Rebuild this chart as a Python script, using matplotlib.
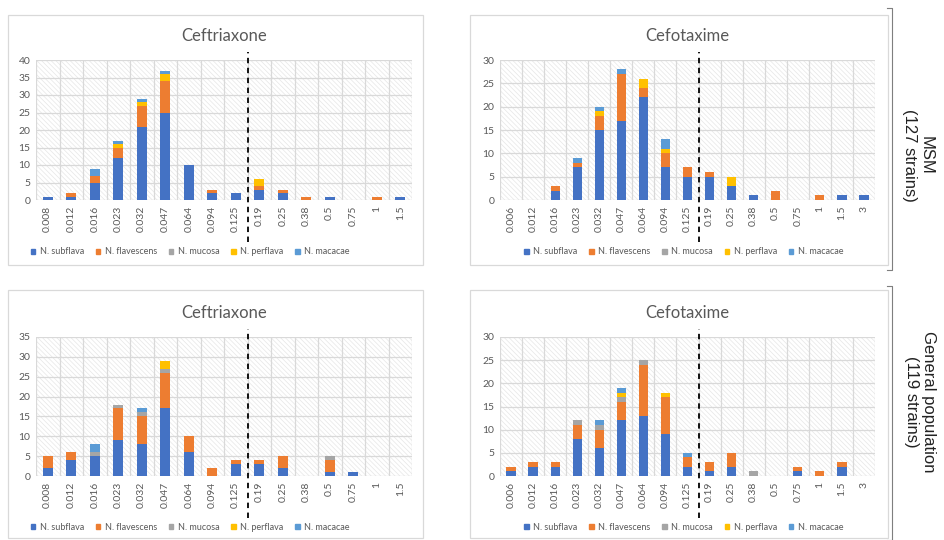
import matplotlib
matplotlib.use("Agg")
import matplotlib.pyplot as plt
import numpy as np
from matplotlib.patches import Rectangle
from matplotlib.lines import Line2D
import matplotlib.transforms as mtransforms

plt.rcParams['font.family'] = ['Lato', 'DejaVu Sans']
plt.rcParams['hatch.linewidth'] = 0.5

species = ["N. subflava", "N. flavescens", "N. mucosa", "N. perflava", "N. macacae"]
colors = ["#4472C4", "#ED7D31", "#A5A5A5", "#FFC000", "#5B9BD5"]

# MIC categories
cro_mic = ["0.008", "0.012", "0.016", "0.023", "0.032", "0.047", "0.064", "0.094",
           "0.125", "0.19", "0.25", "0.38", "0.5", "0.75", "1", "1.5"]
ctx_mic = ["0.006", "0.012", "0.016", "0.023", "0.032", "0.047", "0.064", "0.094",
           "0.125", "0.19", "0.25", "0.38", "0.5", "0.75", "1", "1.5", "3"]

# MSM - ceftriaxone
msm_cro_subflava   = [1, 1, 5, 12, 21, 25, 10, 2, 2, 3, 2, 0, 1, 0, 0, 1]
msm_cro_flavescens = [0, 1, 2, 3, 6, 9, 0, 1, 0, 1, 1, 1, 0, 0, 1, 0]
msm_cro_mucosa     = [0, 0, 0, 0, 0, 0, 0, 0, 0, 0, 0, 0, 0, 0, 0, 0]
msm_cro_perflava   = [0, 0, 0, 1, 1, 2, 0, 0, 0, 2, 0, 0, 0, 0, 0, 0]
msm_cro_macacae    = [0, 0, 2, 1, 1, 1, 0, 0, 0, 0, 0, 0, 0, 0, 0, 0]

# MSM - cefotaxime
msm_ctx_subflava   = [0, 0, 2, 7, 15, 17, 22, 7, 5, 5, 3, 1, 0, 0, 0, 1, 1]
msm_ctx_flavescens = [0, 0, 1, 1, 3, 10, 2, 3, 2, 1, 0, 0, 2, 0, 1, 0, 0]
msm_ctx_mucosa     = [0, 0, 0, 0, 0, 0, 0, 0, 0, 0, 0, 0, 0, 0, 0, 0, 0]
msm_ctx_perflava   = [0, 0, 0, 0, 1, 0, 2, 1, 0, 0, 2, 0, 0, 0, 0, 0, 0]
msm_ctx_macacae    = [0, 0, 0, 1, 1, 1, 0, 2, 0, 0, 0, 0, 0, 0, 0, 0, 0]

# General population - ceftriaxone
gp_cro_subflava   = [2, 4, 5, 9, 8, 17, 6, 0, 3, 3, 2, 0, 1, 1, 0, 0]
gp_cro_flavescens = [3, 2, 0, 8, 7, 9, 4, 2, 1, 1, 3, 0, 3, 0, 0, 0]
gp_cro_mucosa     = [0, 0, 1, 1, 1, 1, 0, 0, 0, 0, 0, 0, 1, 0, 0, 0]
gp_cro_perflava   = [0, 0, 0, 0, 0, 2, 0, 0, 0, 0, 0, 0, 0, 0, 0, 0]
gp_cro_macacae    = [0, 0, 2, 0, 1, 0, 0, 0, 0, 0, 0, 0, 0, 0, 0, 0]

# General population - cefotaxime
gp_ctx_subflava   = [1, 2, 2, 8, 6, 12, 13, 9, 2, 1, 2, 0, 0, 1, 0, 2, 0]
gp_ctx_flavescens = [1, 1, 1, 3, 4, 4, 11, 8, 2, 2, 3, 0, 0, 1, 1, 1, 0]
gp_ctx_mucosa     = [0, 0, 0, 1, 1, 1, 1, 0, 0, 0, 0, 1, 0, 0, 0, 0, 0]
gp_ctx_perflava   = [0, 0, 0, 0, 0, 1, 0, 1, 0, 0, 0, 0, 0, 0, 0, 0, 0]
gp_ctx_macacae    = [0, 0, 0, 0, 1, 1, 0, 0, 1, 0, 0, 0, 0, 0, 0, 0, 0]

W, H = 945, 540
fig = plt.figure(figsize=(W / 100, H / 100), dpi=100)
fig.patch.set_facecolor("white")


def px(x0, y0, x1, y1):
    # pixel box (top-left origin) -> figure fraction rect
    return [x0 / W, 1 - y1 / H, (x1 - x0) / W, (y1 - y0) / H]


def draw(rect, cats, series, ymax, title, leg_x):
    ax = fig.add_axes(rect)
    n = len(cats)
    x = np.arange(n)
    ax.add_patch(Rectangle((0, 0), 1, 1, transform=ax.transAxes, facecolor="white",
                           edgecolor="#e6e6e6", hatch="\\" * 7, linewidth=0, zorder=0))
    for yv in range(0, ymax + 1, 5):
        ax.axhline(yv, color="#d9d9d9", lw=0.9, zorder=1)
    for b in np.arange(-0.5, n, 1.0):
        ax.axvline(b, color="#d9d9d9", lw=0.9, zorder=1)
    bottom = np.zeros(n)
    for vals, c, lab in zip(series, colors, species):
        v = np.array(vals, dtype=float)
        ax.bar(x, v, 0.42, bottom=bottom, color=c, label=lab, zorder=3)
        bottom += v
    ax.set_xlim(-0.5, n - 0.5)
    ax.set_ylim(0, ymax)
    ax.set_yticks(range(0, ymax + 1, 5))
    ax.set_xticks(x)
    ax.set_xticklabels(cats, rotation=90)
    ax.tick_params(length=0, labelsize=7.5, colors="#595959", pad=4)
    for s in ax.spines.values():
        s.set_visible(False)
    ax.set_title(title, fontsize=12, color="#595959", pad=14)
    trans = mtransforms.blended_transform_factory(ax.transData, ax.transAxes)
    ax.plot([8.5, 8.5], [-0.3, 1.06], transform=trans, color="black", lw=1.3,
            ls=(0, (3, 2.5)), clip_on=False, zorder=5)
    handles = [Rectangle((0, 0), 1, 1, color=c) for c in colors]
    ax.legend(handles, species, loc="center", bbox_to_anchor=(leg_x, -0.37), ncol=5,
              frameon=False, fontsize=6.5, handlelength=0.5, handleheight=0.5,
              handletextpad=0.5, columnspacing=1.3, labelcolor="#595959")
    return ax


# panel frames
for box in [(8, 15, 423, 265), (470, 15, 888, 265), (8, 290, 423, 538), (470, 290, 888, 538)]:
    fig.add_artist(Rectangle((box[0] / W, 1 - box[3] / H), (box[2] - box[0]) / W,
                             (box[3] - box[1]) / H, transform=fig.transFigure,
                             facecolor="none", edgecolor="#d9d9d9", lw=0.9))

draw(px(36, 60, 412, 200), cro_mic,
     [msm_cro_subflava, msm_cro_flavescens, msm_cro_mucosa, msm_cro_perflava, msm_cro_macacae],
     40, "Ceftriaxone", 0.41)
draw(px(500, 60, 875, 200), ctx_mic,
     [msm_ctx_subflava, msm_ctx_flavescens, msm_ctx_mucosa, msm_ctx_perflava, msm_ctx_macacae],
     30, "Cefotaxime", 0.49)
draw(px(36, 337, 412, 476), cro_mic,
     [gp_cro_subflava, gp_cro_flavescens, gp_cro_mucosa, gp_cro_perflava, gp_cro_macacae],
     35, "Ceftriaxone", 0.41)
draw(px(500, 337, 875, 476), ctx_mic,
     [gp_ctx_subflava, gp_ctx_flavescens, gp_ctx_mucosa, gp_ctx_perflava, gp_ctx_macacae],
     30, "Cefotaxime", 0.49)

# brackets on the right
for y0, y1 in [(8, 270), (286, 540)]:
    xs = [887 / W, 892 / W, 892 / W, 887 / W]
    ys = [1 - y0 / H, 1 - y0 / H, 1 - y1 / H, 1 - y1 / H]
    fig.add_artist(Line2D(xs, ys, transform=fig.transFigure, color="#7f7f7f", lw=0.8))

fig.text(918 / W, 1 - 155 / H, "MSM\n(127 strains)", rotation=270, ha="center", va="center",
         fontsize=12, family=["Liberation Sans", "DejaVu Sans"], color="#222222",
         linespacing=1.1)
fig.text(920 / W, 1 - 402 / H, "General population\n(119 strains)", rotation=270,
         ha="center", va="center", fontsize=12, family=["Liberation Sans", "DejaVu Sans"],
         color="#222222", linespacing=1.1)

fig.savefig("out.png", dpi=100)
